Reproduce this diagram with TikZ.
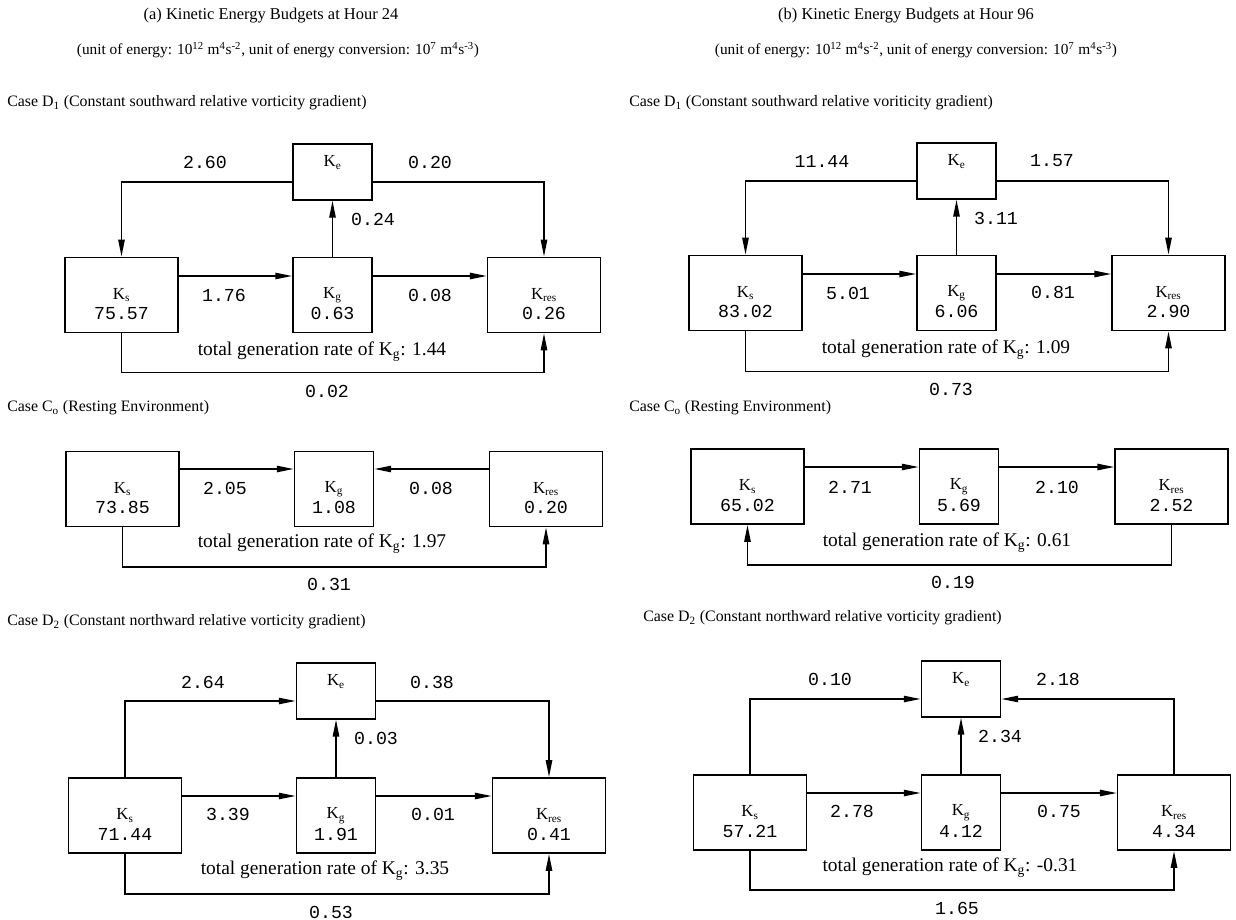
\documentclass[tikz,border=0pt]{standalone}
\usepackage{fontspec}
\setmainfont{Liberation Serif}
\setmonofont{Liberation Mono}
\usetikzlibrary{calc,backgrounds,arrows.meta,positioning}
\newcommand{\Ks}{K\textsubscript{s}}
\newcommand{\Kg}{K\textsubscript{g}}
\newcommand{\Ke}{K\textsubscript{e}}
\newcommand{\Kres}{K\textsubscript{res}}
\newcommand{\totgen}[1]{total generation rate of \Kg: #1}
\newcommand{\unitline}{(unit of energy: 10\textsuperscript{12} m\textsuperscript{4}s\textsuperscript{-2}, unit of energy conversion: 10\textsuperscript{7} m\textsuperscript{4}s\textsuperscript{-3})}

\begin{document}
\begin{tikzpicture}[%
    x=0.025cm, y=-0.025cm,%
    show background rectangle,%
    tight background,%
    background rectangle/.style={fill=white},%
    txt/.style={font=\fontsize{11.3}{13}\selectfont, inner sep=0pt},%
    ttl/.style={font=\fontsize{11.7}{13}\selectfont, inner sep=0pt},%
    unt/.style={font=\fontsize{10.9}{13}\selectfont, inner sep=0pt},%
    gen/.style={font=\fontsize{13.8}{15}\selectfont, inner sep=0pt},%
    num/.style={font=\fontsize{13}{15}\selectfont\ttfamily, inner sep=0pt},%
    kbox/.style={draw, line width=1.1pt, inner sep=0pt, font=\fontsize{12}{14}\selectfont},%
    sbox/.style={kbox, minimum width=80.3pt, minimum height=53.5pt},%
    gbox/.style={kbox, minimum width=56.3pt, minimum height=53.5pt},%
    ebox/.style={kbox, minimum width=56.3pt, minimum height=39.7pt},%
    elab/.style={font=\fontsize{12}{14}\selectfont, inner sep=0pt},%
    arr/.style={line width=1.1pt, -{Triangle[length=12pt,width=4.5pt]}}%
  ]
  \useasboundingbox (0,0) rectangle (1236,920);

  % Headings
  \node[ttl] (ttlA) at (271,16) {(a) Kinetic Energy Budgets at Hour 24};%
  \node[unt] (untA) at (278,50) {\unitline};%
  \node[ttl] (ttlB) at (906,16) {(b) Kinetic Energy Budgets at Hour 96};%
  \node[unt] (untB) at (916,50) {\unitline};%

  % Case labels
  \node[txt, anchor=west] (caseA1) at (7,103) {Case D\textsubscript{1} (Constant southward relative vorticity gradient)};%
  \node[txt, anchor=west] (caseA2) at (7,408) {Case C\textsubscript{o} (Resting Environment)};%
  \node[txt, anchor=west] (caseA3) at (7,622) {Case D\textsubscript{2} (Constant northward relative vorticity gradient)};%
  \node[txt, anchor=west] (caseB1) at (629,103) {Case D\textsubscript{1} (Constant southward relative voriticity gradient)};%
  \node[txt, anchor=west] (caseB2) at (629,408) {Case C\textsubscript{o} (Resting Environment)};%
  \node[txt, anchor=west] (caseB3) at (643,618) {Case D\textsubscript{2} (Constant northward relative vorticity gradient)};%

  % (a) D1
  \node[ebox] (Ke1) at (332.5,172) {};%
  \node[elab] (Ke1l) at ($(Ke1)+(0,-9.5)$) {\Ke};%
  \node[sbox] (Ks1) at (121.5,295) {\Ks};%
  \node[gbox] (Kg1) at (332.5,295) {\Kg};%
  \node[sbox] (Kr1) at (544,295) {\Kres};%
  \node[num] (Ks1v) at ($(Ks1)+(0,18.5)$) {75.57};%
  \node[num] (Kg1v) at ($(Kg1)+(0,18.5)$) {0.63};%
  \node[num] (Kr1v) at ($(Kr1)+(0,18.5)$) {0.26};%
  \draw[arr] ($(Ke1.west)+(0,10)$) -| (Ks1.north);%
  \draw[arr] ($(Ke1.east)+(0,10)$) -| (Kr1.north);%
  \draw[arr] (Kg1.north) -- (Ke1.south);%
  \draw[arr] ($(Ks1.east)+(0,-19)$) -- ($(Kg1.west)+(0,-19)$);%
  \draw[arr] ($(Kg1.east)+(0,-19)$) -- ($(Kr1.west)+(0,-19)$);%
  \draw[arr] (Ks1.south) -- ++(0,39) -| (Kr1.south);%
  \node[num] (c1a) at (205,162) {2.60};%
  \node[num] (c1b) at (430,162) {0.20};%
  \node[num] (c1c) at (373,219) {0.24};%
  \node[num] (c1d) at (224,295) {1.76};%
  \node[num] (c1e) at (430,295) {0.08};%
  \node[num] (c1f) at (327,391) {0.02};%
  \node[gen] (g1) at (322,352) {\totgen{1.44}};%

  % (a) C0
  \node[sbox] (Ks2) at (122.5,489) {\Ks};%
  \node[gbox] (Kg2) at (334,489) {\Kg};%
  \node[sbox] (Kr2) at (546,489) {\Kres};%
  \node[num] (Ks2v) at ($(Ks2)+(0,18.5)$) {73.85};%
  \node[num] (Kg2v) at ($(Kg2)+(0,18.5)$) {1.08};%
  \node[num] (Kr2v) at ($(Kr2)+(0,18.5)$) {0.20};%
  \draw[arr] ($(Ks2.east)+(0,-20)$) -- ($(Kg2.west)+(0,-20)$);%
  \draw[arr] ($(Kr2.west)+(0,-20)$) -- ($(Kg2.east)+(0,-20)$);%
  \draw[arr] (Ks2.south) -- ++(0,39.5) -| (Kr2.south);%
  \node[num] (c2a) at (225,488) {2.05};%
  \node[num] (c2b) at (431,488) {0.08};%
  \node[num] (c2c) at (329,584) {0.31};%
  \node[gen] (g2) at (322,544) {\totgen{1.97}};%

  % (a) D2
  \node[ebox] (Ke3) at (336,691) {};%
  \node[elab] (Ke3l) at ($(Ke3)+(0,-9.5)$) {\Ke};%
  \node[sbox] (Ks3) at (125,815.5) {\Ks};%
  \node[gbox] (Kg3) at (336,815.5) {\Kg};%
  \node[sbox] (Kr3) at (549,815.5) {\Kres};%
  \node[num] (Ks3v) at ($(Ks3)+(0,18.5)$) {71.44};%
  \node[num] (Kg3v) at ($(Kg3)+(0,18.5)$) {1.91};%
  \node[num] (Kr3v) at ($(Kr3)+(0,18.5)$) {0.41};%
  \draw[arr] (Ks3.north) |- ($(Ke3.west)+(0,10)$);%
  \draw[arr] ($(Ke3.east)+(0,10)$) -| (Kr3.north);%
  \draw[arr] (Kg3.north) -- (Ke3.south);%
  \draw[arr] ($(Ks3.east)+(0,-19.5)$) -- ($(Kg3.west)+(0,-19.5)$);%
  \draw[arr] ($(Kg3.east)+(0,-19.5)$) -- ($(Kr3.west)+(0,-19.5)$);%
  \draw[arr] (Ks3.south) -- ++(0,40) -| (Kr3.south);%
  \node[num] (c3a) at (203,682) {2.64};%
  \node[num] (c3b) at (432,682) {0.38};%
  \node[num] (c3c) at (376,738) {0.03};%
  \node[num] (c3d) at (228,814) {3.39};%
  \node[num] (c3e) at (433,814) {0.01};%
  \node[num] (c3f) at (331,912) {0.53};%
  \node[gen] (g3) at (325,871) {\totgen{3.35}};%

  % (b) D1
  \node[ebox] (Ke4) at (956.5,171) {};%
  \node[elab] (Ke4l) at ($(Ke4)+(0,-9.5)$) {\Ke};%
  \node[sbox] (Ks4) at (745.5,293) {\Ks};%
  \node[gbox] (Kg4) at (956.5,293) {\Kg};%
  \node[sbox] (Kr4) at (1168.5,293) {\Kres};%
  \node[num] (Ks4v) at ($(Ks4)+(0,18.5)$) {83.02};%
  \node[num] (Kg4v) at ($(Kg4)+(0,18.5)$) {6.06};%
  \node[num] (Kr4v) at ($(Kr4)+(0,18.5)$) {2.90};%
  \draw[arr] ($(Ke4.west)+(0,10)$) -| (Ks4.north);%
  \draw[arr] ($(Ke4.east)+(0,10)$) -| (Kr4.north);%
  \draw[arr] (Kg4.north) -- (Ke4.south);%
  \draw[arr] ($(Ks4.east)+(0,-19)$) -- ($(Kg4.west)+(0,-19)$);%
  \draw[arr] ($(Kg4.east)+(0,-19)$) -- ($(Kr4.west)+(0,-19)$);%
  \draw[arr] (Ks4.south) -- ++(0,40) -| (Kr4.south);%
  \node[num] (c4a) at (822,161) {11.44};%
  \node[num] (c4b) at (1052,161) {1.57};%
  \node[num] (c4c) at (996,218) {3.11};%
  \node[num] (c4d) at (848,293) {5.01};%
  \node[num] (c4e) at (1053,292) {0.81};%
  \node[num] (c4f) at (951,389) {0.73};%
  \node[gen] (g4) at (946,350) {\totgen{1.09}};%

  % (b) C0
  \node[sbox] (Ks5) at (747.5,486.5) {\Ks};%
  \node[gbox] (Kg5) at (959,486.5) {\Kg};%
  \node[sbox] (Kr5) at (1171.5,486.5) {\Kres};%
  \node[num] (Ks5v) at ($(Ks5)+(0,18.5)$) {65.02};%
  \node[num] (Kg5v) at ($(Kg5)+(0,18.5)$) {5.69};%
  \node[num] (Kr5v) at ($(Kr5)+(0,18.5)$) {2.52};%
  \draw[arr] ($(Ks5.east)+(0,-19.5)$) -- ($(Kg5.west)+(0,-19.5)$);%
  \draw[arr] ($(Kg5.east)+(0,-19.5)$) -- ($(Kr5.west)+(0,-19.5)$);%
  \draw[arr] (Kr5.south) -- ++(0,40) -| (Ks5.south);%
  \node[num] (c5a) at (850,487) {2.71};%
  \node[num] (c5b) at (1057,487) {2.10};%
  \node[num] (c5c) at (953,582) {0.19};%
  \node[gen] (g5) at (947,543) {\totgen{0.61}};%

  % (b) D2
  \node[ebox] (Ke6) at (961,689) {};%
  \node[elab] (Ke6l) at ($(Ke6)+(0,-9.5)$) {\Ke};%
  \node[sbox] (Ks6) at (750,812.5) {\Ks};%
  \node[gbox] (Kg6) at (961,812.5) {\Kg};%
  \node[sbox] (Kr6) at (1174,812.5) {\Kres};%
  \node[num] (Ks6v) at ($(Ks6)+(0,18.5)$) {57.21};%
  \node[num] (Kg6v) at ($(Kg6)+(0,18.5)$) {4.12};%
  \node[num] (Kr6v) at ($(Kr6)+(0,18.5)$) {4.34};%
  \draw[arr] (Ks6.north) |- ($(Ke6.west)+(0,10)$);%
  \draw[arr] (Kr6.north) |- ($(Ke6.east)+(0,10)$);%
  \draw[arr] (Kg6.north) -- (Ke6.south);%
  \draw[arr] ($(Ks6.east)+(0,-19.5)$) -- ($(Kg6.west)+(0,-19.5)$);%
  \draw[arr] ($(Kg6.east)+(0,-19.5)$) -- ($(Kr6.west)+(0,-19.5)$);%
  \draw[arr] (Ks6.south) -- ++(0,39) -| (Kr6.south);%
  \node[num] (c6a) at (830,679) {0.10};%
  \node[num] (c6b) at (1058,679) {2.18};%
  \node[num] (c6c) at (1000,736) {2.34};%
  \node[num] (c6d) at (852,811) {2.78};%
  \node[num] (c6e) at (1059,811) {0.75};%
  \node[num] (c6f) at (957,908) {1.65};%
  \node[gen] (g6) at (950,868) {\totgen{-0.31}};%
\end{tikzpicture}
\end{document}
